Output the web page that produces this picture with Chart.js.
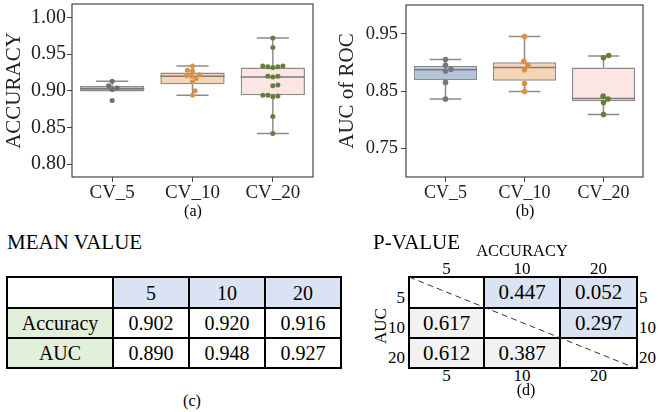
<!DOCTYPE html>
<html>
<head>
<meta charset="utf-8">
<script src="https://cdn.jsdelivr.net/npm/chart.js@4.4.1/dist/chart.umd.min.js"></script>
<style>
  body { margin: 0; background: #fff; font-family: "Liberation Serif", "Times New Roman", serif; color: #000; }
  #hoja { position: relative; width: 658px; height: 412px; overflow: hidden; }
  canvas { position: absolute; top: 0; }
  .txt { position: absolute; line-height: 1; white-space: nowrap; transform: translate(-50%, -50%); }
  .izq { transform: translate(0, -50%); }
  .der { transform: translate(-100%, -50%); }
  table { position: absolute; border-collapse: collapse; table-layout: fixed; }
  td { border: 2px solid #000; text-align: center; padding: 0; line-height: 1; }
</style>
</head>
<body>
<div id="hoja">
  <canvas id="graficoA" width="330" height="206" style="left:0"></canvas>
  <canvas id="graficoB" width="328" height="206" style="left:330px"></canvas>
  <div class="txt" style="left:193px;top:211px;font-size:16px">(a)</div>
  <div class="txt" style="left:525px;top:211px;font-size:16px">(b)</div>

  <div class="txt izq" style="left:7px;top:242px;font-size:21px">MEAN VALUE</div>
  <table id="tablaMedia" style="left:6px;top:276px;font-size:20px"></table>
  <div class="txt" style="left:192px;top:401px;font-size:16px">(c)</div>

  <div class="txt izq" style="left:373px;top:242px;font-size:21px">P-VALUE</div>
  <div class="txt" style="left:522px;top:251px;font-size:16.5px">ACCURACY</div>
  <div class="txt" style="left:380px;top:326px;font-size:17px;transform:translate(-50%,-50%) rotate(-90deg)">AUC</div>
  <table id="tablaP" style="left:408px;top:276px;font-size:21px"></table>
  <div id="etiquetasP"></div>
  <div class="txt" style="left:526px;top:390px;font-size:16px">(d)</div>
</div>

<script>
const categorias = ["CV_5", "CV_10", "CV_20"];

// (a) accuracy de cada fold
const accCV5 = [0.913, 0.907, 0.904, 0.902, 0.887];
const accCV10 = [0.934, 0.928, 0.927, 0.922, 0.921, 0.920, 0.917, 0.912, 0.900, 0.894];
const accCV20 = [0.972, 0.959, 0.934, 0.933, 0.933, 0.932, 0.934, 0.920, 0.919, 0.920,
                 0.908, 0.907, 0.894, 0.893, 0.892, 0.894, 0.865, 0.842];
// cajas de (a)
const accMin = [0.899, 0.894, 0.842];
const accQ1 = [0.899, 0.909, 0.894];
const accMediana = [0.903, 0.920, 0.919];
const accQ3 = [0.907, 0.925, 0.932];
const accMax = [0.913, 0.934, 0.972];
const accMarcas = [0.80, 0.85, 0.90, 0.95, 1.00];

// (b) AUC de cada fold
const aucCV5 = [0.905, 0.895, 0.888, 0.885, 0.865, 0.836];
const aucCV10 = [0.945, 0.902, 0.895, 0.887, 0.863, 0.849];
const aucCV20 = [0.912, 0.908, 0.841, 0.836, 0.830, 0.809];
const aucMin = [0.836, 0.849, 0.809];
const aucQ1 = [0.869, 0.868, 0.832];
const aucMediana = [0.887, 0.891, 0.837];
const aucQ3 = [0.894, 0.900, 0.891];
const aucMax = [0.905, 0.945, 0.911];
const aucMarcas = [0.75, 0.85, 0.95];

// tablas
const columnas = ["5", "10", "20"];
const filasMedia = ["Accuracy", "AUC"];
const mediaAccuracy = [0.902, 0.920, 0.916];
const mediaAuc = [0.890, 0.948, 0.927];
// p-valores por pareja: 5-10, 5-20, 10-20
const pAccuracy = [0.447, 0.052, 0.297];
const pAuc = [0.617, 0.612, 0.387];

Chart.defaults.font.family = '"Liberation Serif", "Times New Roman", serif';
Chart.defaults.color = "#222";

function pluginBigotes(minimo, q1, mediana, q3, maximo) {
  return {
    id: "bigotes",
    afterDatasetDraw(chart, args) {
      if (args.index !== 1) return;
      const ctx = chart.ctx, xs = chart.scales.x, ys = chart.scales.y;
      const barras = chart.getDatasetMeta(1).data;
      ctx.save();
      ctx.lineWidth = 1.5;
      barras.forEach((b, i) => {
        const cx = xs.getPixelForValue(i), m = b.width / 2, c = b.width / 4;
        const yMin = ys.getPixelForValue(minimo[i]), yMax = ys.getPixelForValue(maximo[i]);
        const yQ1 = ys.getPixelForValue(q1[i]), yQ3 = ys.getPixelForValue(q3[i]);
        const yMed = ys.getPixelForValue(mediana[i]);
        ctx.strokeStyle = "#8c8c8c";
        ctx.beginPath();
        ctx.moveTo(cx, yQ3); ctx.lineTo(cx, yMax);
        ctx.moveTo(cx - c, yMax); ctx.lineTo(cx + c, yMax);
        ctx.moveTo(cx, yQ1); ctx.lineTo(cx, yMin);
        if (minimo[i] < q1[i]) { ctx.moveTo(cx - c, yMin); ctx.lineTo(cx + c, yMin); }
        ctx.stroke();
        ctx.strokeStyle = "#7c7c7c";
        ctx.beginPath();
        ctx.moveTo(cx - m, yMed); ctx.lineTo(cx + m, yMed);
        ctx.stroke();
      });
      ctx.restore();
    },
    afterDraw(chart) {
      const ctx = chart.ctx, a = chart.chartArea;
      ctx.save();
      ctx.strokeStyle = "#444";
      ctx.lineWidth = 1.2;
      ctx.strokeRect(a.left, a.top, a.right - a.left, a.bottom - a.top);
      ctx.restore();
    }
  };
}

// acomoda los puntos como un swarmplot
function acomodarPuntos(grafico, grupos, radio) {
  const xs = grafico.scales.x, ys = grafico.scales.y;
  const unidad = xs.getPixelForValue(1) - xs.getPixelForValue(0);
  const d = radio * 2 + 0.1;
  const datos = [];
  grupos.forEach((valores, i) => {
    const puestos = [];
    valores.slice().sort((a, b) => a - b).forEach(v => {
      const py = ys.getPixelForValue(v);
      const candidatos = [0];
      puestos.forEach(p => {
        const dy = Math.abs(p.y - py);
        if (dy < d) {
          const dx = Math.sqrt(d * d - dy * dy);
          candidatos.push(p.x + dx, p.x - dx);
        }
      });
      candidatos.sort((a, b) => Math.abs(a) - Math.abs(b));
      const libre = candidatos.find(cx => puestos.every(p => Math.hypot(p.x - cx, p.y - py) >= d - 0.01));
      puestos.push({ x: libre, y: py });
      datos.push({ x: i + libre / unidad, y: v });
    });
  });
  grafico.data.datasets[0].data = datos;
  grafico.update("none");
}

function crearCaja(id, c) {
  const grafico = new Chart(id, {
    type: "bar",
    data: {
      datasets: [{
        type: "scatter",
        data: [],
        pointRadius: c.radio,
        pointHoverRadius: c.radio,
        pointBorderWidth: 0,
        pointBackgroundColor: ctx => ctx.raw ? c.coloresPunto[Math.round(ctx.raw.x)] : c.coloresPunto[0]
      }, {
        type: "bar",
        data: categorias.map((k, i) => ({ x: i, y: [c.q1[i], c.q3[i]] })),
        backgroundColor: c.coloresCaja,
        borderColor: "#8c8c8c",
        borderWidth: 1.5,
        borderSkipped: false,
        barPercentage: 0.8,
        categoryPercentage: 1
      }]
    },
    options: {
      responsive: false,
      animation: false,
      events: [],
      layout: { padding: { top: c.arriba, right: c.derecha, left: 0, bottom: 0 } },
      plugins: { legend: { display: false }, tooltip: { enabled: false } },
      scales: {
        x: {
          type: "linear", min: -0.5, max: 2.5, offset: false,
          grid: { display: true, drawOnChartArea: false, drawTicks: true, tickLength: 5, color: "#444", offset: false },
          border: { display: false },
          ticks: { font: { size: c.letraX }, padding: 0, maxRotation: 0, autoSkip: false, callback: v => categorias[v] },
          afterBuildTicks: s => { s.ticks = categorias.map((k, i) => ({ value: i })); },
          afterFit: s => { s.height = 29; s.paddingLeft = 0; s.paddingRight = 0; }
        },
        y: {
          type: "linear", min: c.min, max: c.max, beginAtZero: false,
          grid: { display: true, drawOnChartArea: false, drawTicks: true, tickLength: 5, color: "#444" },
          border: { display: false },
          ticks: { font: { size: c.letraY }, padding: c.sep, callback: v => v.toFixed(2) },
          afterBuildTicks: s => { s.ticks = c.marcas.map(v => ({ value: v })); },
          afterFit: s => { s.width = c.anchoEje; s.paddingTop = 0; s.paddingBottom = 0; },
          title: { display: true, text: c.titulo, font: { size: 21 }, padding: { top: c.tituloSep, bottom: 0 } }
        }
      }
    },
    plugins: [pluginBigotes(c.minimo, c.q1, c.mediana, c.q3, c.maximo)]
  });
  acomodarPuntos(grafico, c.grupos, c.radio);
}

// tabla (c)
function tablaMedia() {
  let html = '<colgroup><col style="width:106px">' + columnas.map(() => '<col style="width:76px">').join("") + "</colgroup>";
  html += '<tr style="height:31px"><td></td>' + columnas.map(k => '<td style="background:#dae3f3">' + k + "</td>").join("") + "</tr>";
  [mediaAccuracy, mediaAuc].forEach((fila, i) => {
    html += '<tr style="height:30px"><td style="background:#e2efda">' + filasMedia[i] + "</td>" +
      fila.map(v => "<td>" + v.toFixed(3) + "</td>").join("") + "</tr>";
  });
  const t = document.getElementById("tablaMedia");
  t.style.width = (106 + 76 * 3) + "px";
  t.innerHTML = html;
}

// tabla (d): arriba accuracy, abajo AUC
function tablaP() {
  const pares = [[0, 1], [0, 2], [1, 2]];
  const m = columnas.map(() => columnas.map(() => null));
  pares.forEach((p, k) => {
    m[p[0]][p[1]] = { v: pAccuracy[k], fondo: "#dae3f3" };
    m[p[1]][p[0]] = { v: pAuc[k], fondo: "#f2f2f2" };
  });
  const anchos = [75, 76, 77];
  let html = "<colgroup>" + anchos.map(a => '<col style="width:' + a + 'px">').join("") + "</colgroup>";
  m.forEach((fila, i) => {
    html += '<tr style="height:' + (i === 0 ? 31 : 30) + 'px">' + fila.map(c =>
      c ? '<td style="background:' + c.fondo + '">' + c.v.toFixed(3) + "</td>" : "<td></td>").join("") + "</tr>";
  });
  const t = document.getElementById("tablaP");
  t.style.width = (75 + 76 + 77) + "px";
  t.innerHTML = html;

  // etiquetas y diagonal a partir de la tabla
  const hoja = document.getElementById("hoja").getBoundingClientRect();
  const r = t.getBoundingClientRect();
  const celdas = t.rows[0].cells;
  let extra = "";
  columnas.forEach((k, i) => {
    const cc = celdas[i].getBoundingClientRect();
    const cx = cc.left + cc.width / 2 - hoja.left;
    extra += '<div class="txt" style="left:' + cx + 'px;top:' + (r.top - hoja.top - 8) + 'px;font-size:17px">' + k + "</div>";
    extra += '<div class="txt" style="left:' + cx + 'px;top:' + (r.bottom - hoja.top + 6) + 'px;font-size:17px">' + k + "</div>";
    const rr = t.rows[i].getBoundingClientRect();
    const cy = rr.top + rr.height / 2 - hoja.top + 4;
    extra += '<div class="txt der" style="left:' + (r.left - hoja.left - 3) + 'px;top:' + cy + 'px;font-size:17px">' + k + "</div>";
    extra += '<div class="txt izq" style="left:' + (r.right - hoja.left + 1) + 'px;top:' + cy + 'px;font-size:17px">' + k + "</div>";
  });
  extra += '<svg style="position:absolute;left:' + (r.left - hoja.left) + "px;top:" + (r.top - hoja.top) +
    'px" width="' + r.width + '" height="' + r.height + '"><line x1="1" y1="1" x2="' + (r.width - 3) + '" y2="' + (r.height - 1) +
    '" stroke="#333" stroke-width="1" stroke-dasharray="6,4"/></svg>';
  document.getElementById("etiquetasP").innerHTML = extra;
}

tablaMedia();
tablaP();

crearCaja("graficoA", {
  titulo: "ACCURACY", grupos: [accCV5, accCV10, accCV20],
  minimo: accMin, q1: accQ1, mediana: accMediana, q3: accQ3, maximo: accMax,
  marcas: accMarcas, min: 0.7825, max: 1.0185,
  coloresCaja: ["#a3aebe", "#f7d4b2", "#fce6e4"],
  coloresPunto: ["#6e6e6e", "#d8904b", "#677d3e"],
  radio: 2.5, arriba: 4, derecha: 17, anchoEje: 72, sep: 1, tituloSep: 2, letraX: 19, letraY: 20
});

crearCaja("graficoB", {
  titulo: "AUC of ROC", grupos: [aucCV5, aucCV10, aucCV20],
  minimo: aucMin, q1: aucQ1, mediana: aucMediana, q3: aucQ3, maximo: aucMax,
  marcas: aucMarcas, min: 0.70, max: 1.00,
  coloresCaja: ["#b2c3dc", "#f7d4b2", "#fce6e4"],
  coloresPunto: ["#777777", "#dc8f48", "#667e3c"],
  radio: 2.8, arriba: 5, derecha: 15, anchoEje: 76, sep: 3, tituloSep: 5, letraX: 18, letraY: 18.5
});
</script>
</body>
</html>
